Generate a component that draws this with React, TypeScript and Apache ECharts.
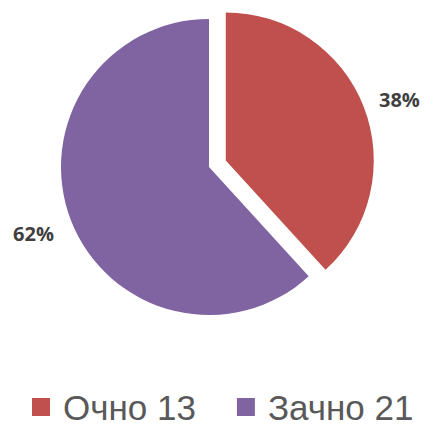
import React, { useEffect, useRef } from "react";
import * as echarts from "echarts";

const categories = ["Очно", "Зачно"];
const values = [13, 21];
const colors = ["#C0504D", "#8064A2"];

export default function App() {
  const ref = useRef<HTMLDivElement>(null);
  useEffect(() => {
    if (!ref.current) return;
    const chart = echarts.init(ref.current, null, { renderer: "svg" });
    const total = values.reduce((a, b) => a + b, 0);
    const pct = values.map((v) => `${Math.round((v / total) * 100)}%`);
    const labelPos = [
      { x: 379, y: 99, align: "left" },
      { x: 54, y: 233, align: "right" },
    ];
    chart.setOption({
      animation: false,
      backgroundColor: "#ffffff",
      legend: {
        left: 32,
        top: 389,
        width: 394,
        padding: 0,
        icon: "rect",
        itemWidth: 18,
        itemHeight: 18,
        itemGap: 41,
        selectedMode: false,
        formatter: (name: string) => `${name} ${values[categories.indexOf(name)]}`,
        textStyle: {
          fontFamily: "Liberation Sans",
          fontSize: 35,
          lineHeight: 36,
          color: "#595959",
          padding: [0, 0, 0, 8],
        },
        data: categories,
      },
      graphic: pct.map((t, i) => ({
        type: "text",
        x: labelPos[i].x,
        y: labelPos[i].y,
        style: {
          text: t,
          align: labelPos[i].align,
          verticalAlign: "middle",
          fontFamily: "Open Sans",
          fontWeight: "bold",
          fontSize: 20,
          fill: "#404040",
        },
      })),
      series: [
        {
          type: "pie",
          center: [209, 167],
          radius: [0, 148],
          startAngle: 90,
          clockwise: true,
          selectedMode: "single",
          selectedOffset: 18,
          emphasis: { disabled: true },
          label: { show: false },
          labelLine: { show: false },
          data: categories.map((c, i) => ({
            name: c,
            value: values[i],
            selected: i === 0,
            itemStyle: { color: colors[i] },
          })),
        },
      ],
    });
    return () => chart.dispose();
  }, []);
  return (
    <div
      ref={ref}
      style={{ position: "absolute", left: 0, top: 0, width: 426, height: 427 }}
    />
  );
}
